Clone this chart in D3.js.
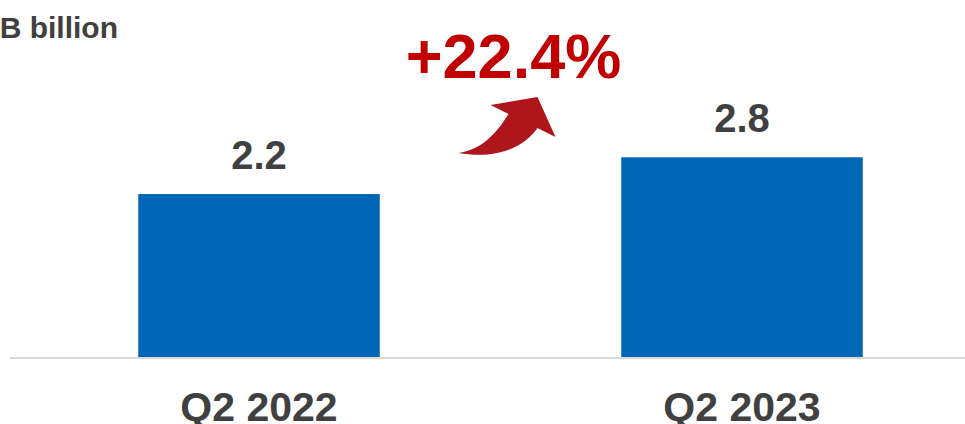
<!DOCTYPE html>
<html><head><meta charset="utf-8">
<script src="https://cdn.jsdelivr.net/npm/d3@7"></script>
<style>body{margin:0;background:#fff}svg{display:block}text{font-family:"Liberation Sans",Arial,sans-serif;font-weight:bold}</style>
</head><body>
<script>
const categories = ["Q2 2022", "Q2 2023"];
const values = [2.26, 2.77];
const valueLabels = ["2.2", "2.8"];
const unitLabel = "RMB billion";
const growthLabel = "+22.4%";

const W = 965, H = 424, base = 357;
const svg = d3.select("body").append("svg").attr("width", W).attr("height", H);

const x = d3.scaleBand().domain(categories).range([17.5, 983.5]).paddingInner(0.5).paddingOuter(0.25);
const y = d3.scaleLinear().domain([0, 1]).range([base, base - 72.1]);

svg.append("g").selectAll("rect").data(values).join("rect")
  .attr("x", (d, i) => x(categories[i]))
  .attr("width", x.bandwidth())
  .attr("y", d => y(d))
  .attr("height", d => y(0) - y(d))
  .attr("fill", "#0067b6");

svg.append("line").attr("x1", 10).attr("x2", W).attr("y1", base + 1).attr("y2", base + 1)
  .attr("stroke", "#d9d9d9").attr("stroke-width", 2);

svg.append("g").selectAll("text").data(values).join("text")
  .attr("x", (d, i) => x(categories[i]) + x.bandwidth() / 2)
  .attr("y", d => y(d) - 25)
  .attr("text-anchor", "middle").attr("font-size", 40).attr("fill", "#404040")
  .text((d, i) => valueLabels[i]);

const xAxis = d3.axisBottom(x).tickSize(0).tickPadding(0);
const gx = svg.append("g").attr("transform", `translate(0,${base})`).call(xAxis);
gx.select(".domain").remove();
gx.selectAll("text").attr("font-size", 41).attr("fill", "#404040")
  .attr("dy", null).attr("y", 64).attr("font-family", '"Liberation Sans",Arial,sans-serif').attr("font-weight", "bold");

svg.append("text").attr("x", -47).attr("y", 38).attr("font-size", 30).attr("fill", "#404040").text(unitLabel);

// growth annotation between the bars
const midX = (x(categories[0]) + x.bandwidth() + x(categories[1])) / 2;
svg.append("text").attr("x", midX + 13).attr("y", 78).attr("text-anchor", "middle")
  .attr("font-size", 63).attr("fill", "#c00000").text(growthLabel);

const ox = midX, oy = 0;
const arrow = d3.path();
arrow.moveTo(-42, 153);
arrow.bezierCurveTo(-20, 150, -5, 135, 8, 114);
arrow.lineTo(-10, 105);
arrow.lineTo(37, 97);
arrow.lineTo(55, 137);
arrow.lineTo(37, 128);
arrow.bezierCurveTo(25, 145, 0, 160, -42, 153);
arrow.closePath();
svg.append("path").attr("d", arrow.toString()).attr("transform", `translate(${ox},${oy})`).attr("fill", "#ae161c");
</script>
</body></html>
